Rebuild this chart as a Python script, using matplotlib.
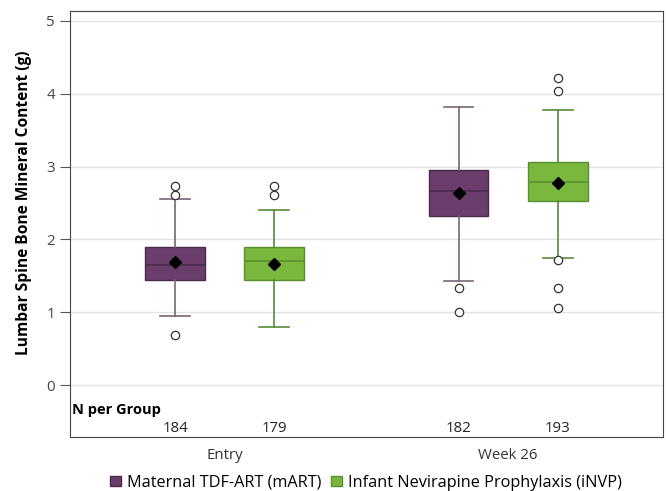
import numpy as np
import matplotlib
matplotlib.use('Agg')
import matplotlib.pyplot as plt
from matplotlib.patches import Patch

plt.rcParams.update({
    'font.family': ['Open Sans', 'DejaVu Sans'],
    'font.size': 10,
})

# --- data ---
visits = ['Entry', 'Week 26']
groups = ['Maternal TDF-ART (mART)', 'Infant Nevirapine Prophylaxis (iNVP)']
n_per_group = [[184, 179], [182, 193]]

# per visit, per group
q1 = [[1.45, 1.44], [2.32, 2.53]]
median = [[1.65, 1.70], [2.66, 2.79]]
q3 = [[1.90, 1.90], [2.95, 3.06]]
mean = [[1.69, 1.66], [2.64, 2.77]]
whislo = [[0.95, 0.80], [1.43, 1.75]]
whishi = [[2.55, 2.41], [3.82, 3.77]]
outliers = [[[2.73, 2.61, 0.69], [2.73, 2.61]],
            [[1.33, 1.00], [4.21, 4.04, 1.72, 1.34, 1.06]]]

fills = ['#6b3d6d', '#79b83d']
edges = ['#4a2a4b', '#5a8f30']
whisk = ['#7a6579', '#5a8a3a']
offsets = [-0.175, 0.175]

fig, ax = plt.subplots(figsize=(6.68, 4.91), dpi=100)
fig.subplots_adjust(left=0.105, right=0.992, top=0.977, bottom=0.11)

for v in range(len(visits)):
    for g in range(len(groups)):
        st = dict(med=median[v][g], q1=q1[v][g], q3=q3[v][g],
                  whislo=whislo[v][g], whishi=whishi[v][g],
                  mean=mean[v][g], fliers=outliers[v][g])
        ax.bxp([st], positions=[v + offsets[g]], widths=0.21,
               showmeans=True, patch_artist=True, manage_ticks=False,
               boxprops=dict(facecolor=fills[g], edgecolor=edges[g], linewidth=1),
               medianprops=dict(color=edges[g], linewidth=1.2),
               whiskerprops=dict(color=whisk[g], linewidth=1.2),
               capprops=dict(color=whisk[g], linewidth=1.2),
               capwidths=0.105,
               meanprops=dict(marker='D', markerfacecolor='black',
                              markeredgecolor='black', markersize=6.5),
               flierprops=dict(marker='o', markerfacecolor='white',
                               markeredgecolor='#333333', markersize=6,
                               markeredgewidth=0.9))
        ax.text(v + offsets[g], -0.6, str(n_per_group[v][g]),
                ha='center', va='center', fontsize=10.8, color='#222222')

ax.text(-0.537, -0.34, 'N per Group', ha='left', va='center',
        fontsize=10.5, fontweight='bold')

ax.set_xlim(-0.545, 1.545)
ax.set_ylim(-0.71, 5.13)
ax.set_xticks(range(len(visits)))
ax.set_xticklabels(visits, fontsize=10.8, color='#333333')
ax.tick_params(axis='x', length=0, pad=8)
ax.set_yticks([0, 1, 2, 3, 4, 5])
ax.tick_params(axis='y', length=7, color='#555555', labelsize=10.8,
               labelcolor='#444444', pad=4)
ax.yaxis.grid(True, color='#e3e3e3', linewidth=1)
ax.set_axisbelow(True)
for s in ax.spines.values():
    s.set_color('#444444')
ax.set_ylabel('Lumbar Spine Bone Mineral Content (g)', fontweight='bold',
              fontsize=11.2)
ax.yaxis.set_label_coords(-0.064, (2.5 + 0.71) / 5.84)

handles = [Patch(facecolor=fills[i], edgecolor=edges[i]) for i in range(2)]
fig.legend(handles, groups, loc='center', ncol=2, frameon=False,
           bbox_to_anchor=(0.548, 0.017), handlelength=0.65, handleheight=0.65,
           handletextpad=0.4, columnspacing=0.6, fontsize=11.7)

fig.savefig('out.png', dpi=100)
